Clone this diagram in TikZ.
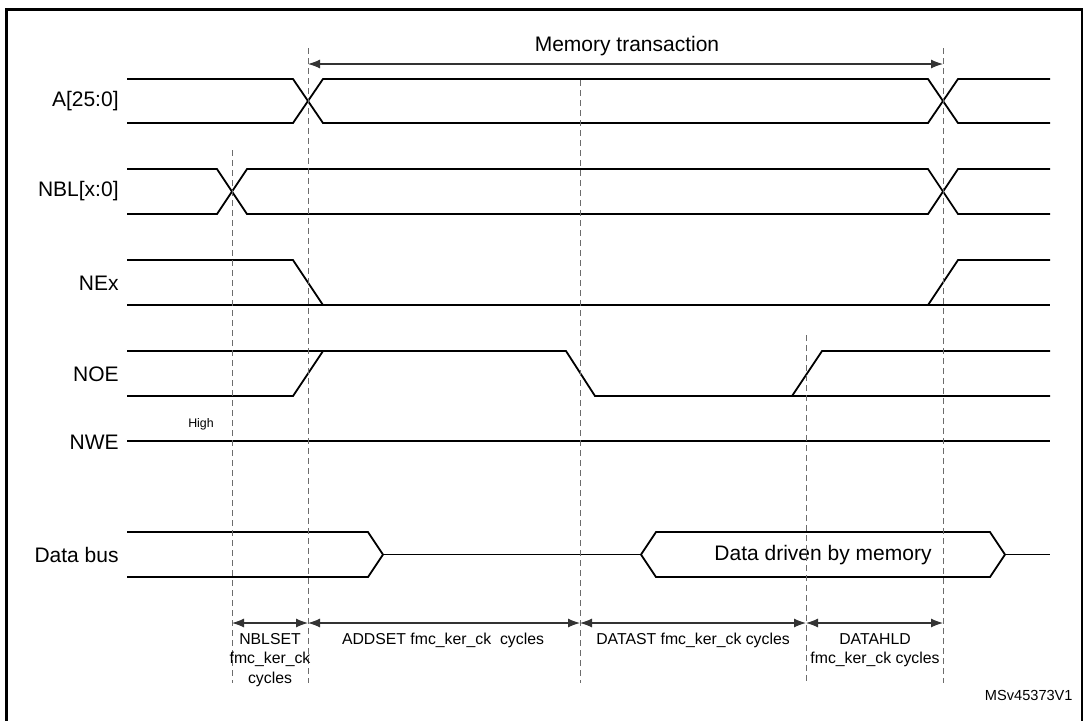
\documentclass[tikz,border=0pt]{standalone}
\usepackage{fontspec}
\setmainfont{Liberation Sans}
\usetikzlibrary{arrows.meta}

\begin{document}
\begin{tikzpicture}[x=0.5pt, y=-0.5pt, wave/.style={line width=0.9pt, line join=miter}, guide/.style={dash pattern=on 3pt off 2pt, line width=0.5pt, gray!85!black}, dim/.style={{Latex[length=6pt,width=4.5pt]}-{Latex[length=6pt,width=4.5pt]}, line width=0.55pt, black!80}, sig/.style={anchor=east, inner sep=0pt, font=\fontsize{10.5}{12}\selectfont}, note/.style={align=center, inner sep=0pt, font=\fontsize{7.9}{9.8}\selectfont}]
\clip (0,0) rectangle (1083,720);
\draw[line width=1.5pt] (6,730) -- (6,9) -- (1082,9) -- (1082,730);
% signal names
\node[sig] (sa) at (119,101) {A[25:0]};
\node[sig] (snbl) at (119,191) {NBL[x:0]};
\node[sig] (sne) at (119,283) {NEx};
\node[sig] (snoe) at (119,374) {NOE};
\node[sig] (snwe) at (119,442) {NWE};
\node[sig] (sdata) at (119,555) {Data bus};
\node[inner sep=0pt, font=\fontsize{6.2}{7}\selectfont] (high) at (201,424) {High};
% waveforms
\draw[wave] (127,79) -- (293,79) -- (323,123) -- (928,123) -- (958,79) -- (1050,79);
\draw[wave] (127,123) -- (293,123) -- (323,79) -- (928,79) -- (958,123) -- (1050,123);
\draw[wave] (127,169) -- (217,169) -- (247,214) -- (928,214) -- (958,169) -- (1050,169);
\draw[wave] (127,214) -- (217,214) -- (247,169) -- (928,169) -- (958,214) -- (1050,214);
\draw[wave] (127,260) -- (293,260) -- (323,305);
\draw[wave] (127,305) -- (1050,305);
\draw[wave] (928,305) -- (958,260) -- (1050,260);
\draw[wave] (127,351) -- (566,351) -- (595,396) -- (1050,396);
\draw[wave] (127,396) -- (293,396) -- (323,351);
\draw[wave] (792,396) -- (822,351) -- (1050,351);
\draw[wave] (127,441) -- (1050,441);
\draw[wave] (127,532) -- (368,532) -- (383,554.5) -- (368,577) -- (127,577);
\draw[wave] (383,554.5) -- (641,554.5);
\draw[wave] (641,554.5) -- (656,532) -- (990,532) -- (1005,554.5) -- (990,577) -- (656,577) -- cycle;
\draw[wave] (1005,554.5) -- (1050,554.5);
\node[inner sep=0pt, font=\fontsize{10.5}{12}\selectfont] (ddm) at (823,555) {Data driven by memory};
% timing guides
\foreach \n/\x/\top in {a/232/150, b/308/48, c/580/80, d/806/335, e/943/48} {
  \coordinate (g\n) at (\x,\top);
  \coordinate (m\n) at (\x,623);
  \draw[guide] (g\n) -- (\x,683);
}
\coordinate (tb) at (308,64);
\coordinate (te) at (943,64);
\draw[dim] (tb) -- (te);
\node[inner sep=0pt, font=\fontsize{10.5}{12}\selectfont] (mt) at (627,46) {Memory transaction};
\draw[dim] (ma) -- (mb);
\draw[dim] (mb) -- (mc);
\draw[dim] (mc) -- (md);
\draw[dim] (md) -- (me);
\node[note] (nblset) at (270,660) {NBLSET\\fmc\_ker\_ck\\cycles};
\node[note] (addset) at (443,640) {ADDSET fmc\_ker\_ck\ \ cycles};
\node[note] (datast) at (693,640) {DATAST fmc\_ker\_ck cycles};
\node[note] (datahld) at (875,650) {DATAHLD\\fmc\_ker\_ck cycles};
\node[inner sep=0pt, anchor=east, font=\fontsize{7.3}{8}\selectfont] (msv) at (1073,695) {MSv45373V1};
\end{tikzpicture}
\end{document}
